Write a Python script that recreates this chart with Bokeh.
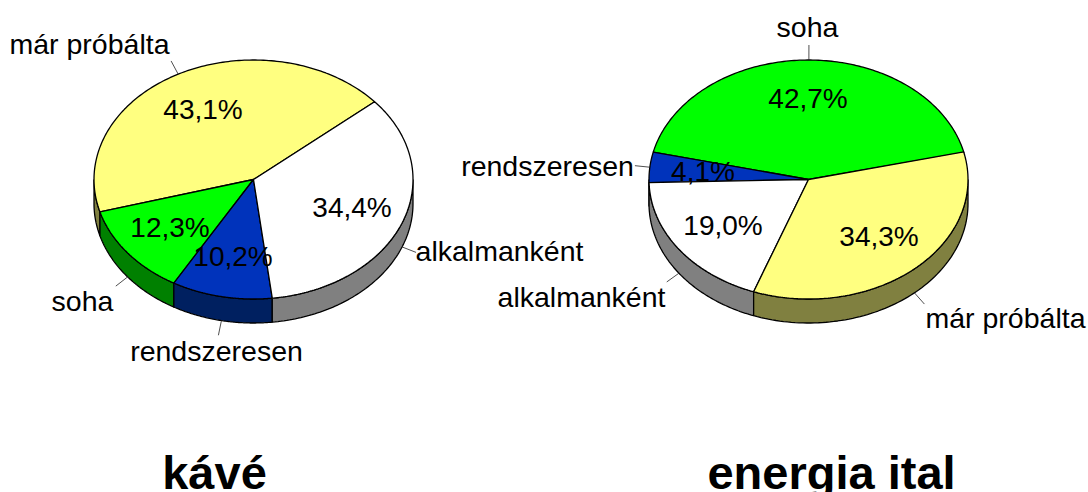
import numpy as np
from bokeh.plotting import figure
from bokeh.models import Range1d
from bokeh.core.properties import value
from bokeh.embed import file_html
from bokeh.resources import INLINE

# data
coffee_title = "kávé"
coffee_labels = ["már próbálta", "soha", "rendszeresen", "alkalmanként"]
coffee_values = [43.1, 12.3, 10.2, 34.4]
coffee_text = ["43,1%", "12,3%", "10,2%", "34,4%"]

energy_title = "energia ital"
energy_labels = ["soha", "rendszeresen", "alkalmanként", "már próbálta"]
energy_values = [42.7, 4.1, 19.0, 34.3]
energy_text = ["42,7%", "4,1%", "19,0%", "34,3%"]

# styles / layout
COL = {"már próbálta": ("#FFFF80", "#808040"), "soha": ("#00FF00", "#008000"),
       "rendszeresen": ("#0033BB", "#002060"), "alkalmanként": ("#FFFFFF", "#808080")}
RX, RY, DEPTH, CY = 159.5, 119.5, 24, 179
FONT = value("Liberation Sans")

p = figure(width=1088, height=492, output_backend="svg", toolbar_location=None,
           x_range=Range1d(0, 1088), y_range=Range1d(492, 0), min_border=0)
p.axis.visible = False
p.grid.visible = False
p.outline_line_color = None


def pie(cx, start, vals, labels, texts, text_pos, label_pos, title, title_x):
    angles = start + np.concatenate([[0], np.cumsum(vals)]) * 3.6
    ex = lambda a: cx + RX * np.cos(np.radians(a))
    ey = lambda a: CY - RY * np.sin(np.radians(a))
    # side wall
    for i, lab in enumerate(labels):
        for lo, hi in ((180, 360), (540, 720)):
            a0, a1 = max(angles[i], lo), min(angles[i + 1], hi)
            if a1 > a0:
                t = np.linspace(a0, a1, 80)
                xs = np.r_[ex(t), ex(t[::-1])]
                ys = np.r_[ey(t), ey(t[::-1]) + DEPTH]
                p.patch(xs, ys, fill_color=COL[lab][1], line_color="black", line_width=1.3)
    # top surface
    for i, lab in enumerate(labels):
        t = np.linspace(angles[i], angles[i + 1], 160)
        xs = np.r_[cx, ex(t)]
        ys = np.r_[CY, ey(t)]
        p.patch(xs, ys, fill_color=COL[lab][0], line_color="black", line_width=1.3)
    # leaders
    for i in range(len(labels)):
        m = (angles[i] + angles[i + 1]) / 2
        c, s = np.cos(np.radians(m)), np.sin(np.radians(m))
        x0, y0 = ex(m), ey(m) + (DEPTH if s < 0 else 0)
        p.line([x0, x0 + 15 * c], [y0, y0 - 15 * s], line_color="#222222", line_width=0.8)
    p.text([q[0] - 0.5 for q in text_pos], [q[1] - 1 for q in text_pos], text=texts, text_font=FONT,
           text_font_size="28px", text_color="black", text_align="center", text_baseline="middle")
    p.text([q[0] - 1 for q in label_pos], [q[1] - 2 for q in label_pos], text=labels, text_font=FONT,
           text_font_size="28.5px", text_color="black", text_align="center", text_baseline="middle")
    p.text([title_x], [472], text=[title], text_font=FONT, text_font_size="47px",
           text_font_style="bold", text_color="black", text_align="center", text_baseline="alphabetic")


pie(253, 40.6, coffee_values, coffee_labels, coffee_text,
    [(203, 110), (170, 228), (233, 257), (352, 208)],
    [(90, 45), (83, 302), (217, 352), (500, 252)], coffee_title, 214)
pie(808, 13, energy_values, energy_labels, energy_text,
    [(808, 99), (703, 172), (723, 226), (879, 237)],
    [(808, 28), (548, 167), (582, 298), (1006, 319)], energy_title, 831)

open("out.html", "w").write(file_html(p, INLINE))
